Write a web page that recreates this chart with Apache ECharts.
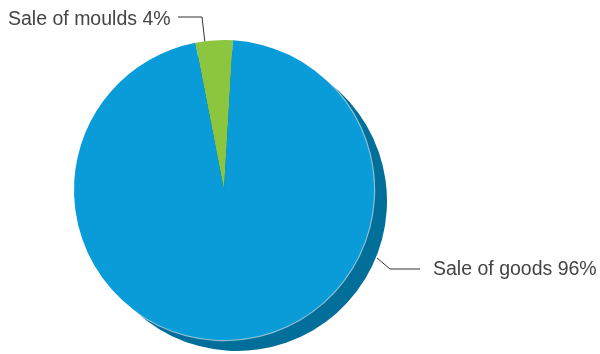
<!DOCTYPE html>
<html>
<head>
<meta charset="utf-8">
<style>
  html, body { margin: 0; padding: 0; background: #ffffff; }
  #chart { width: 600px; height: 354px; }
</style>
<script src="https://cdn.jsdelivr.net/npm/echarts@6/dist/echarts.min.js"></script>
</head>
<body>
<div id="chart"></div>
<script>
// Revenue split
const categories = ['Sale of moulds', 'Sale of goods'];
const shares = [4, 96];
const sliceColors = ['#8cc63f', '#099cd9'];

const pieData = categories.map((name, i) => ({
  name: name,
  value: shares[i],
  itemStyle: { color: sliceColors[i] }
}));

const CENTER = [224, 190];
const RADIUS = 150;
const START = 101;

// label placement and leader-line routing for each slice
const labelSpots = [
  { x: 8, y: 19.5, line: [[178, 17], [202, 17], [205, 43]] },
  { x: 433, y: 269.5, line: [[377, 258], [390, 269], [420, 269]] }
];

const chart = echarts.init(document.getElementById('chart'), null, { renderer: 'canvas' });

chart.setOption({
  animation: false,
  backgroundColor: '#ffffff',
  series: [
    {
      // dropped shadow underneath the pie
      type: 'pie',
      z: 1,
      silent: true,
      center: [CENTER[0] + 13, CENTER[1] + 11],
      radius: RADIUS,
      startAngle: START,
      label: { show: false },
      labelLine: { show: false },
      itemStyle: { color: '#026f9b' },
      data: pieData.map(d => ({ name: d.name, value: d.value }))
    },
    {
      // thin highlight rim along the pie edge
      type: 'pie',
      z: 2,
      silent: true,
      center: CENTER,
      radius: [RADIUS - 0.5, RADIUS + 1.2],
      startAngle: START,
      label: { show: false },
      labelLine: { show: false },
      itemStyle: { color: 'rgba(255,255,255,0.55)' },
      data: pieData.map(d => ({ name: d.name, value: d.value }))
    },
    {
      type: 'pie',
      z: 3,
      center: CENTER,
      radius: RADIUS,
      startAngle: START,
      clockwise: true,
      data: pieData,
      label: {
        show: true,
        formatter: p => p.name + ' ' + p.value + '%',
        fontFamily: 'Liberation Sans, Arial, sans-serif',
        fontSize: 19.5,
        color: '#444444'
      },
      labelLine: {
        show: true,
        lineStyle: { color: '#333333', width: 1 }
      },
      labelLayout: params => {
        const s = labelSpots[params.dataIndex];
        return {
          x: s.x,
          y: s.y,
          align: 'left',
          verticalAlign: 'middle',
          labelLinePoints: s.line
        };
      }
    }
  ]
});
</script>
</body>
</html>
